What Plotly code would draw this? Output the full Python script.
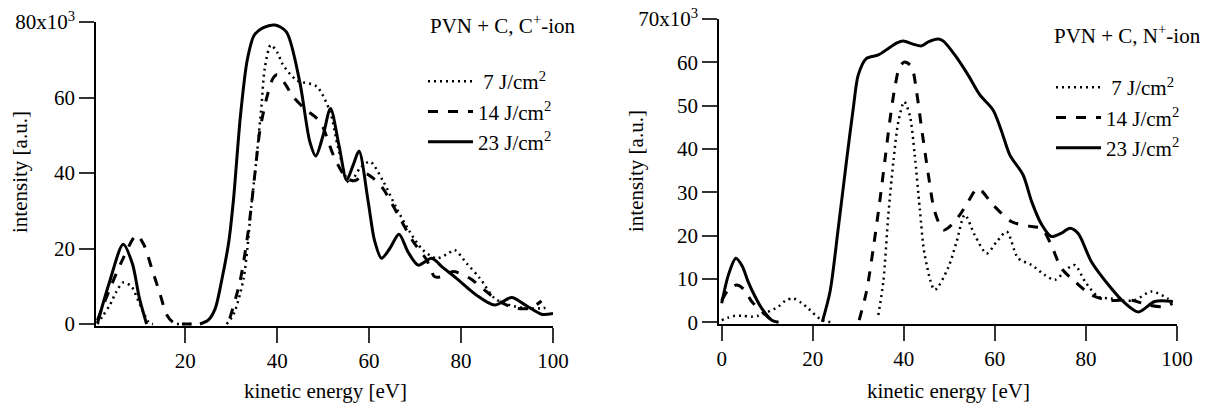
import plotly.graph_objects as go

# ---------------- data: C+ ion (left) ----------------
c_e_7 = [0.9, 2, 3.6, 5, 6.5, 8.3, 10.2, 12, 13, 15.5, 18.2, 21.4, 25, 29, 30.5, 32.7, 34.4, 35.5, 36.6, 37.3, 38.6, 40, 41.3, 44.2,
         48.6, 51.5, 53.3, 55.7, 58, 60.2, 63.1, 66, 68.8, 71.7, 74.7, 77.2, 78.6, 81.2, 84.1, 87.3, 90.6, 94.2, 97.8, 99]
c_i_7 = [0, 2, 5, 8.5, 11, 9.9, 5, 0.6, 0, None, 0, 0, None, 0, 2.5, 12.1, 31.5, 43.9, 58, 67.7, 73.9, 72, 68.6, 64.6,
         62.9, 56.2, 46.5, 37.3, 41.2, 43, 37.7, 30.6, 24.5, 19.6, 17.4, 18.7, 19.6, 16.1, 12.1, 6.8, 5, 4.2, 4.2, 4.5]

c_e_14 = [0.9, 3.5, 6.5, 9.4, 11, 12.7, 14.5, 16, 17.5, 19, 21.4, 25, 29.7, 31.9, 33.7, 35.2, 36.2, 37.7, 39.1, 40, 41.5, 43.5,
          46, 48.6, 50, 52.2, 55.1, 57, 59.1, 61, 63, 66.3, 69.6, 72.5, 74.3, 76.5, 78.3, 81.9, 85.5, 88.4, 92, 95, 97.5]
c_i_14 = [1, 9, 17.4, 23.6, 21, 14.8, 8, 2.4, 0.3, 0, 0, None, 1.5, 11.2, 24.5, 40.3, 50.9, 59.8, 65.1, 66, 64, 60.2,
          57, 54.5, 52, 44.8, 38.6, 38, 39.9, 38.5, 35.9, 28.9, 21.8, 17, 12.5, 12.8, 13.9, 12.1, 8.6, 5.9, 4.2, 4.2, 6.1]

c_e_23 = [0.9, 3.5, 6.5, 8.5, 10, 11.6, 17, 23.2, 25, 26.5, 28, 29.5, 30.5, 32, 33.5, 35, 37, 39.5, 42, 44.9, 47.1, 48.4,
          50, 51.6, 53.5, 55.1, 56.5, 57.8, 59.8, 61.2, 62.7, 64.5, 66.5, 68.5, 70.7, 73.6, 76, 79, 83.3, 87.3, 91, 94,
          97.5, 100]
c_i_23 = [0.2, 11, 21.1, 16, 7, 0, None, 0, 1, 4, 12, 22, 33, 55, 70, 76.5, 78.5, 79.2, 77.4, 64.2, 48.3, 44.5,
          50, 57.1, 47, 38.1, 42, 45.8, 32.4, 22, 17.4, 20, 23.8, 19, 15.6, 17.4, 15, 12.1, 7.7, 5.0, 7.0, 5,
          2.6, 2.8]

# ---------------- data: N+ ion (right) ----------------
n_e_7 = [0, 1.5, 2.9, 4.5, 6.6, 8, 9.5, 12.4, 14, 15.7, 17.5, 19, 22, 24.5, 30, 34.4, 35.5, 36.6, 37.7, 38.8, 40.1, 41.3,
         42.4, 43.5, 44.6, 46.8, 49.7, 51.6, 53.4, 55.6, 58.2, 60.4, 62.6, 65.1, 68.1, 71, 73.2, 76.1, 77.6, 79.8,
         82.7, 85.6, 88, 90.7, 94.4, 98, 99]
n_i_7 = [0.5, 1.1, 1.5, 1.5, 1.3, 1.5, 2.1, 3.6, 5, 5.5, 4.5, 3.2, 0.5, 0, None, 1.7, 9.4, 24.8, 37, 46.3, 50.9, 47.8,
         38.6, 26.3, 15.5, 7.5, 12.5, 18.6, 24.8, 20.1, 15.9, 18.6, 20.9, 14.8, 13.2, 10.9, 9.8, 12.5, 13.2, 9.4,
         5.9, 5.5, 5, 5.1, 7.1, 5.5, 4.8]

n_e_14 = [0, 1.5, 3.3, 5, 6.6, 8.8, 11, 12.5, 20, 30.2, 31.8, 33.3, 34.7, 35.9, 36.9, 38, 39.1, 40.2, 41.7, 42.8, 43.9,
          45.4, 46.8, 48.7, 50.5, 52.3, 54.1, 56.3, 59.6, 63.7, 68.1, 70.3, 72.4, 74.6, 77.6, 81.2, 84.9, 90, 93.7,
          97.3, 99]
n_i_14 = [5, 7.5, 8.6, 7.5, 4.8, 2.5, 0.5, 0, None, 0.5, 7.1, 17.1, 27.8, 37.8, 46.3, 54, 59, 60.1, 59, 53.2, 44.8,
          34, 25.5, 21.3, 22.5, 24.8, 27.8, 30.9, 27.1, 23.2, 22.1, 21.7, 17.8, 12.5, 9.4, 6.3, 5.1, 5.1, 4,
          3.6, 4.4]

n_e_23 = [0, 1.5, 3.1, 4.5, 5.8, 7.3, 8.8, 11, 12.5, 17, 22.1, 23.8, 25.6, 27.4, 28.9, 30, 31.8, 34.4, 36.6, 38.5, 39.9,
          42, 43.9, 45.5, 47.6, 48.7, 51.2, 54.1, 56.7, 59.6, 61.5, 63.3, 66.2, 68.1, 70.3, 72.4, 74.5, 76.5, 78.3,
          81.2, 85.6, 88, 91.5, 95.1, 99.1]
n_i_23 = [4.4, 11, 14.8, 13, 9.4, 6, 3.2, 0.5, 0, None, 0.1, 7.1, 21.7, 37.1, 49.4, 57.1, 60.9, 61.7, 63.2, 64.5, 64.9,
          64.2, 63.8, 64.8, 65.4, 64.9, 61.7, 57.1, 52.5, 49, 44, 38.6, 34, 27.8, 22.5, 19.8, 20.5, 21.7, 20.5,
          14, 7.8, 5, 2.4, 4.8, 4.8]

labels = ["\u00a07 J/cm<sup>2</sup>", "14 J/cm<sup>2</sup>", "23 J/cm<sup>2</sup>"]
dashes = ["2px,4px", "10px,10px", "solid"]
widths = [2.5, 3, 3]

c_ticks = [0, 20, 40, 60, 80]
c_ticktext = ["0", "20", "40", "60", "80x10<sup>3</sup>"]
n_ticks = [0, 10, 20, 30, 40, 50, 60, 70]
n_ticktext = ["0", "10", "20", "30", "40", "50", "60", "70x10<sup>3</sup>"]
x_ticks_c = [20, 40, 60, 80, 100]
x_ticks_n = [0, 20, 40, 60, 80, 100]

FONT = "Liberation Serif, Times New Roman, serif"
FS = 21

fig = go.Figure()

def k(v):
    return [None if a is None else a * 1000 for a in v]

for e, i, lab, d, w in zip([c_e_7, c_e_14, c_e_23], [c_i_7, c_i_14, c_i_23], labels, dashes, widths):
    fig.add_trace(go.Scatter(x=e, y=k(i), mode="lines", name=lab, xaxis="x", yaxis="y",
                             line=dict(color="black", width=w, dash=d, shape="spline", smoothing=0.8),
                             connectgaps=False, legend="legend"))
for e, i, lab, d, w in zip([n_e_7, n_e_14, n_e_23], [n_i_7, n_i_14, n_i_23], labels, dashes, widths):
    fig.add_trace(go.Scatter(x=e, y=k(i), mode="lines", name=lab, xaxis="x2", yaxis="y2",
                             line=dict(color="black", width=w, dash=d, shape="spline", smoothing=0.8),
                             connectgaps=False, legend="legend2"))

W, H = 1208, 406
def px(xp):
    return xp / W
def py(yp):
    return 1 - yp / H

axis_common = dict(showline=True, linecolor="black", linewidth=1.5, ticks="outside", ticklen=15,
                   tickwidth=1.5, tickcolor="#333", showgrid=False, zeroline=False, automargin=False,
                   tickfont=dict(family=FONT, size=FS, color="black"))

leg_common = dict(font=dict(family=FONT, size=FS, color="black"), bgcolor="rgba(0,0,0,0)",
                  borderwidth=0, xanchor="left", yanchor="top", itemwidth=45, tracegroupgap=0)

tfont = dict(family=FONT, size=FS, color="black")

fig.update_layout(
    template="none",
    width=W, height=H, margin=dict(l=0, r=0, t=0, b=0, autoexpand=False),
    paper_bgcolor="white", plot_bgcolor="white",
    font=dict(family=FONT, size=FS, color="black"),
    showlegend=True,
    xaxis=dict(domain=[px(96), px(553)], range=[0.59, 100], tickvals=x_ticks_c, anchor="y", **axis_common),
    yaxis=dict(domain=[py(326), py(22)], range=[-530, 80000], tickvals=[v * 1000 for v in c_ticks],
               ticktext=c_ticktext, anchor="x", **axis_common),
    xaxis2=dict(domain=[px(719), px(1177)], range=[-0.59, 100], tickvals=x_ticks_n, anchor="y2", **axis_common),
    yaxis2=dict(domain=[py(324.3), py(19)], range=[-460, 70000], tickvals=[v * 1000 for v in n_ticks],
                ticktext=n_ticktext, anchor="x2", **axis_common),
    legend=dict(x=px(423), y=py(61), **leg_common),
    legend2=dict(x=px(1051), y=py(67), **leg_common),
    annotations=[
        dict(text="PVN + C, C<sup>+</sup>-ion", x=px(428), y=py(25), xref="paper", yref="paper",
             xanchor="left", yanchor="middle", showarrow=False, font=tfont),
        dict(text="PVN + C, N<sup>+</sup>-ion", x=px(1052), y=py(34), xref="paper", yref="paper",
             xanchor="left", yanchor="middle", showarrow=False, font=tfont),
        dict(text="intensity [a.u.]", x=px(20), y=py(172), xref="paper", yref="paper", textangle=-90,
             xanchor="center", yanchor="middle", showarrow=False, font=tfont),
        dict(text="intensity [a.u.]", x=px(636), y=py(171), xref="paper", yref="paper", textangle=-90,
             xanchor="center", yanchor="middle", showarrow=False, font=tfont),
        dict(text="kinetic energy [eV]", x=px(325), y=py(391), xref="paper", yref="paper",
             xanchor="center", yanchor="middle", showarrow=False, font=tfont),
        dict(text="kinetic energy [eV]", x=px(948), y=py(391), xref="paper", yref="paper",
             xanchor="center", yanchor="middle", showarrow=False, font=tfont),
    ],
)

fig.write_html("out.html", config={"displayModeBar": False},
               post_script="document.body.style.margin='0px';document.body.style.padding='0px';")
